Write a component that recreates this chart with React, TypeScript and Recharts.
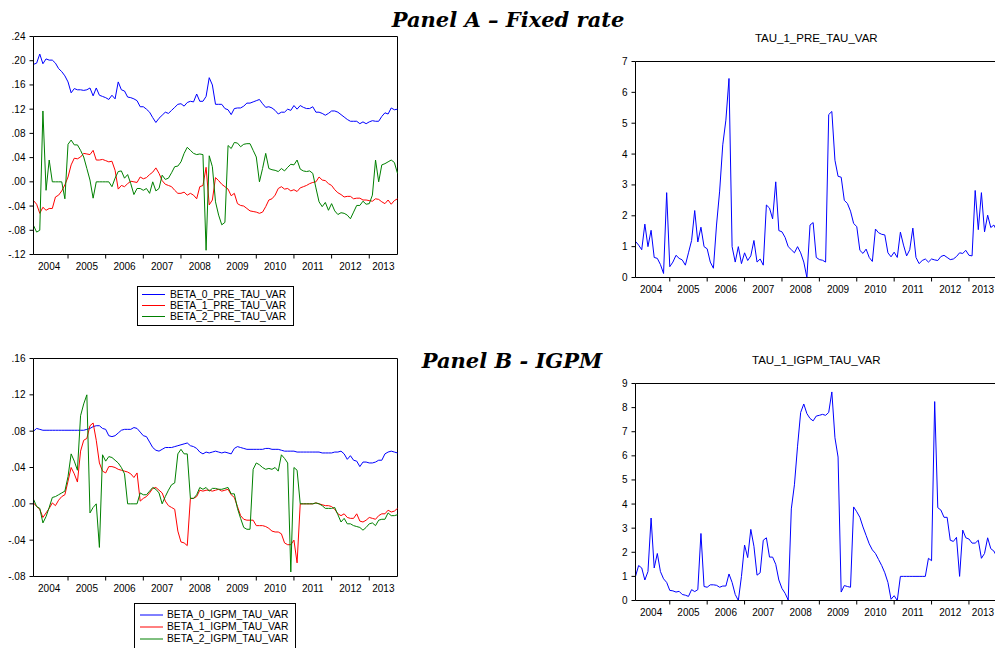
import React from "react";
import { LineChart, Line, XAxis, YAxis, Legend, ReferenceLine } from "recharts";

const FONT = '"Liberation Sans", Arial, sans-serif';

// monthly observations, index 0 = 2004M02 ... 116 = 2013M10
const YEARS = ["2004", "2005", "2006", "2007", "2008", "2009", "2010", "2011", "2012", "2013"];
const YEAR_BREAKS = [11, 23, 35, 47, 59, 71, 83, 95, 107];
const YEAR_MIDS = [5, 17, 29, 41, 53, 65, 77, 89, 101, 111.5];
const LAST = 116;

const BETA_TICKS_PRE = [-0.12, -0.08, -0.04, 0, 0.04, 0.08, 0.12, 0.16, 0.2, 0.24];
const BETA_TICKS_IGPM = [-0.08, -0.04, 0, 0.04, 0.08, 0.12, 0.16];
const TAU_TICKS_PRE = [0, 1, 2, 3, 4, 5, 6, 7];
const TAU_TICKS_IGPM = [0, 1, 2, 3, 4, 5, 6, 7, 8, 9];

const BETA0_PRE = [
  0.194, 0.196, 0.211, 0.195, 0.203, 0.201, 0.201, 0.196, 0.187, 0.182,
  0.175, 0.165, 0.147, 0.154, 0.152, 0.152, 0.151, 0.152, 0.155, 0.142,
  0.155, 0.143, 0.141, 0.139, 0.136, 0.143, 0.137, 0.165, 0.152, 0.15,
  0.14, 0.139, 0.137, 0.134, 0.124, 0.124, 0.12, 0.115, 0.106, 0.098,
  0.105, 0.11, 0.115, 0.113, 0.118, 0.123, 0.128, 0.129, 0.125, 0.131,
  0.133, 0.132, 0.145, 0.133, 0.133, 0.141, 0.172, 0.16, 0.128, 0.128,
  0.128, 0.121, 0.119, 0.111, 0.121, 0.122, 0.122, 0.125, 0.13, 0.13,
  0.132, 0.134, 0.136, 0.129, 0.123, 0.124, 0.122, 0.118, 0.112, 0.115,
  0.115, 0.12, 0.118, 0.126, 0.12, 0.126, 0.123, 0.121, 0.121, 0.124,
  0.115, 0.115, 0.113, 0.11, 0.113, 0.117, 0.117, 0.115, 0.111, 0.107,
  0.103, 0.1, 0.1, 0.1, 0.096, 0.099, 0.096, 0.099, 0.101, 0.1,
  0.1, 0.108, 0.114, 0.112, 0.122, 0.119, 0.12,
];

const BETA1_PRE = [
  -0.031, -0.037, -0.052, -0.042, -0.047, -0.044, -0.044, -0.025, -0.022, -0.015,
  -0.005, 0.008, 0.028, 0.039, 0.038, 0.041, 0.047, 0.046, 0.045, 0.052,
  0.036, 0.036, 0.037, 0.035, 0.033, 0.034, 0.019, -0.012, -0.006, -0.008,
  -0.003, 0.001, 0.0, -0.001, 0.008, 0.005, 0.007, 0.012, 0.016, 0.023,
  0.014, 0.002, -0.004, -0.006, -0.008, -0.014, -0.019, -0.019, -0.017, -0.022,
  -0.019, -0.022, -0.028, -0.008, -0.006, 0.024, -0.038, -0.03, 0.007, 0.002,
  -0.004, -0.008, -0.012, -0.023, -0.019, -0.036, -0.039, -0.04, -0.044, -0.048,
  -0.049, -0.05, -0.052, -0.05, -0.041, -0.03, -0.028, -0.022, -0.011, -0.008,
  -0.012, -0.011, -0.015, -0.013, -0.016, -0.01, -0.008, -0.006, -0.003, -0.001,
  0.0, 0.008, 0.003, 0.002, -0.003, -0.006, -0.013, -0.018, -0.021, -0.025,
  -0.024, -0.024, -0.028, -0.027, -0.027, -0.03, -0.03, -0.031, -0.032, -0.028,
  -0.029, -0.033, -0.036, -0.03, -0.037, -0.031, -0.028,
];

const BETA2_PRE = [
  -0.072, -0.083, -0.08, 0.117, -0.014, 0.036, 0.0, 0.0, 0.0, 0.0,
  -0.028, 0.062, 0.069, 0.061, 0.061, 0.052, 0.041, 0.022, 0.003, -0.027,
  0.0, 0.0, 0.0, 0.0, 0.0, -0.008, 0.006, 0.017, 0.018, 0.006,
  0.012, -0.003, -0.021, -0.011, -0.011, -0.014, -0.011, -0.019, 0.0, -0.015,
  -0.011, 0.011, 0.004, 0.006, 0.015, 0.025, 0.026, 0.033, 0.047, 0.057,
  0.052, 0.047, 0.045, 0.046, 0.045, -0.113, 0.043, 0.025, -0.033, -0.055,
  -0.071, -0.067, 0.06, 0.055, 0.065, 0.064, 0.058, 0.062, 0.063, 0.063,
  0.052, 0.041, 0.0, 0.022, 0.047, 0.022, 0.02, 0.019, 0.017, 0.022,
  0.018, 0.024, 0.029, 0.028, 0.036, 0.021, 0.018, 0.017, 0.018, 0.014,
  -0.01, -0.033, -0.041, -0.034, -0.047, -0.036, -0.048, -0.054, -0.051, -0.052,
  -0.055, -0.061, -0.05, -0.039, -0.039, -0.032, -0.037, -0.036, -0.022, 0.036,
  0.0, 0.028, 0.03, 0.033, 0.036, 0.032, 0.014,
];

const TAU_PRE = [
  1.17, 1.05, 0.9, 1.73, 1.0, 1.53, 0.65, 0.62, 0.42, 0.13,
  2.75, 0.35, 0.5, 0.72, 0.62, 0.57, 0.4, 0.8, 1.2, 2.17,
  1.15, 1.63, 1.0, 0.93, 0.5, 0.3, 1.7, 2.8, 4.3, 5.1,
  6.45, 1.0, 0.5, 1.0, 0.45, 0.8, 0.55, 0.7, 1.2, 0.5,
  0.6, 0.4, 2.35, 2.25, 1.9, 3.1, 1.52, 1.48, 1.3, 1.0,
  0.9, 0.8, 1.0, 0.8, 0.5, 0.0, 1.7, 1.78, 0.65, 0.58,
  0.56, 0.5, 5.28, 5.38, 3.8, 3.28, 3.25, 2.5, 2.4, 2.15,
  1.75, 1.65, 0.88, 0.78, 0.92, 0.65, 0.52, 1.57, 1.45, 1.4,
  1.38, 0.8, 0.67, 0.82, 0.65, 1.47, 1.05, 0.7, 0.9, 1.6,
  0.65, 0.45, 0.55, 0.6, 0.5, 0.6, 0.57, 0.55, 0.68, 0.72,
  0.65, 0.58, 0.6, 0.68, 0.8, 0.78, 0.88, 0.72, 0.7, 2.82,
  1.55, 2.75, 1.48, 2.02, 1.62, 1.7, 1.5,
];

const BETA0_IGPM = [
  0.08, 0.083, 0.082, 0.081, 0.081, 0.081, 0.081, 0.081, 0.081, 0.081,
  0.081, 0.081, 0.081, 0.081, 0.081, 0.081, 0.081, 0.082, 0.083, 0.085,
  0.086, 0.086, 0.083, 0.082, 0.075, 0.074, 0.075, 0.078, 0.081, 0.082,
  0.082, 0.082, 0.084, 0.083, 0.079, 0.075, 0.074, 0.068, 0.062, 0.059,
  0.058, 0.06, 0.062, 0.062, 0.062, 0.063, 0.064, 0.065, 0.066, 0.067,
  0.064, 0.063, 0.061, 0.057, 0.055, 0.057, 0.056, 0.057, 0.058, 0.057,
  0.056, 0.057, 0.056, 0.055, 0.061, 0.063, 0.062, 0.061, 0.06, 0.06,
  0.06, 0.06, 0.06, 0.06, 0.061, 0.061, 0.06, 0.06, 0.06, 0.059,
  0.058, 0.058, 0.058, 0.058, 0.057, 0.057, 0.057, 0.057, 0.057, 0.057,
  0.057, 0.057, 0.056, 0.056, 0.056, 0.056, 0.057, 0.057, 0.058, 0.055,
  0.049, 0.053, 0.048, 0.047, 0.041, 0.046, 0.046, 0.045, 0.045, 0.046,
  0.048, 0.048, 0.055, 0.057, 0.058, 0.057, 0.056,
];

const BETA1_IGPM = [
  0.001, -0.003, -0.006, -0.015, -0.01, -0.005, 0.001, -0.002, 0.004, 0.008,
  0.01, 0.025, 0.04, 0.033, 0.024, 0.058, 0.07, 0.072, 0.086, 0.089,
  0.07, 0.045, 0.036, 0.034, 0.041, 0.041, 0.04, 0.038, 0.037, 0.036,
  0.035, 0.033, 0.029, 0.034, 0.003, 0.006, 0.008, 0.012, 0.017, 0.018,
  0.015, 0.012, 0.003, -0.002, -0.004, -0.006, -0.03, -0.042, -0.043, -0.046,
  0.006, 0.006, 0.008, 0.015, 0.014, 0.015, 0.015, 0.014, 0.015, 0.016,
  0.014, 0.015, 0.016, 0.01, 0.007, -0.003, -0.013, -0.017, -0.018, -0.018,
  -0.018, -0.024, -0.024, -0.024, -0.025, -0.027, -0.03, -0.031, -0.031, -0.033,
  -0.043, -0.045, -0.045, -0.04, -0.065, 0.0, 0.0, 0.0, 0.0, 0.0,
  0.001, 0.0, -0.001, -0.002, -0.002, -0.003, -0.006, -0.011, -0.013, -0.011,
  -0.015, -0.016, -0.016, -0.011, -0.019, -0.02, -0.018, -0.015, -0.016, -0.017,
  -0.013, -0.011, -0.011, -0.007, -0.009, -0.008, -0.005,
];

const BETA2_IGPM = [
  0.005, -0.003, -0.005, -0.021, -0.014, -0.004, 0.007, 0.008, 0.01, 0.012,
  0.014, 0.03, 0.055, 0.047, 0.037, 0.097, 0.11, 0.12, -0.01, -0.004,
  0.0, -0.048, 0.054, 0.047, 0.052, 0.051, 0.048, 0.045, 0.04, 0.033,
  0.0, 0.0, 0.0, 0.0, 0.012, 0.01, 0.01, 0.014, 0.018, 0.016,
  0.012, 0.0, 0.008, 0.015, 0.021, 0.023, 0.055, 0.06, 0.055, 0.055,
  0.006, 0.006, 0.01, 0.018, 0.016, 0.018, 0.014, 0.017, 0.017, 0.016,
  0.016, 0.017, 0.018, 0.011, 0.011, -0.005, -0.016, -0.026, -0.028, -0.028,
  0.038, 0.045, 0.043, 0.04, 0.038, 0.039, 0.038, 0.04, 0.036, 0.054,
  0.05, 0.045, -0.075, 0.04, 0.037, 0.0, 0.0, 0.0, 0.0, 0.0,
  0.001, 0.0, -0.002, -0.005, -0.005, -0.005, -0.004, -0.012, -0.02, -0.016,
  -0.022, -0.022, -0.024, -0.025, -0.026, -0.029, -0.026, -0.022, -0.021, -0.024,
  -0.018, -0.017, -0.017, -0.01, -0.013, -0.013, -0.012,
];

const TAU_IGPM = [
  1.0, 1.45, 1.35, 0.85, 1.2, 3.42, 1.35, 1.95, 1.2, 0.9,
  0.75, 0.42, 0.4, 0.35, 0.38, 0.25, 0.22, 0.17, 0.45, 0.37,
  0.45, 2.78, 0.58, 0.55, 0.65, 0.65, 0.63, 0.55, 0.6, 0.6,
  1.1, 0.75, 0.25, 0.0, 1.0, 2.3, 1.78, 2.95, 2.25, 1.05,
  1.15, 2.5, 2.6, 1.8, 1.8, 1.5, 0.85, 0.5, 0.3, 0.02,
  3.8, 4.8, 6.4, 7.8, 8.15, 7.75, 7.55, 7.45, 7.65, 7.68,
  7.72, 7.68, 7.8, 8.65, 6.75, 5.95, 0.35, 0.62, 0.58, 0.55,
  3.88, 3.68, 3.45, 3.05, 2.7, 2.35, 2.1, 1.95, 1.7, 1.45,
  1.15, 0.75, 0.05, 0.2, 0.0, 1.0, 1.0, 1.0, 1.0, 1.0,
  1.0, 1.0, 1.0, 1.0, 1.75, 1.65, 8.25, 3.85, 3.75, 3.45,
  3.45, 2.5, 2.45, 2.62, 1.0, 2.92, 2.6, 2.55, 2.38, 2.38,
  2.5, 1.75, 1.95, 2.6, 2.15, 2.05, 1.8,
];

type Series = { key: string; name: string; color: string; values: number[] };

const betaFmt = (v: number) => v.toFixed(2).replace(/^(-?)0\./, "$1.");

function YearTick(props: any) {
  const { x, y, payload } = props;
  const k = YEAR_MIDS.indexOf(payload.value);
  if (k >= 0) {
    return (
      <text x={x} y={y} dy="0.71em" textAnchor="middle" fontSize={10} fill="#000" fontFamily={FONT}>
        {YEARS[k]}
      </text>
    );
  }
  return <line x1={x} x2={x} y1={y - 8} y2={y - 4} stroke="#000" />;
}

function LegendBox(props: any) {
  const { payload, width, rowH, padTop, swatchLeft, textLeft } = props;
  return (
    <div
      style={{
        width,
        height: 3 * rowH + padTop + 5,
        border: "1px solid #000",
        boxSizing: "border-box",
        background: "#fff",
        paddingTop: padTop,
        fontFamily: FONT,
        fontSize: 10.3,
        color: "#000",
      }}
    >
      {(payload || []).map((p: any) => (
        <div key={p.value} style={{ position: "relative", height: rowH }}>
          <svg width={23} height={rowH} style={{ position: "absolute", left: swatchLeft, top: 0 }}>
            <line x1={0} x2={23} y1={rowH / 2} y2={rowH / 2} stroke={p.color} />
          </svg>
          <span style={{ position: "absolute", left: textLeft, top: 0, lineHeight: rowH + "px", whiteSpace: "nowrap" }}>
            {p.value}
          </span>
        </div>
      ))}
    </div>
  );
}

function Panel(props: any) {
  const { left, top, width, height, margin, yWidth, yDomain, yTicks, yFormat, series, title, legend } = props;
  const rows = series[0].values.map((_: number, i: number) => {
    const r: any = { i };
    series.forEach((s: Series) => (r[s.key] = s.values[i]));
    return r;
  });
  const xTicks = [...YEAR_BREAKS, ...YEAR_MIDS].sort((a, b) => a - b);
  return (
    <div style={{ position: "absolute", left, top }}>
      <LineChart width={width} height={height} data={rows} margin={margin}>
        <XAxis
          dataKey="i"
          type="number"
          domain={[0, LAST]}
          ticks={xTicks}
          interval={0}
          tick={<YearTick />}
          tickLine={false}
          tickSize={4}
          tickMargin={4}
          height={20}
          stroke="#000"
        />
        <YAxis
          type="number"
          domain={yDomain}
          ticks={yTicks}
          interval={0}
          width={yWidth}
          tickSize={4}
          tickMargin={4}
          tickFormatter={yFormat}
          tick={{ fontSize: 10, fill: "#000", fontFamily: FONT }}
          stroke="#000"
        />
        {/* box frame: top and right edges */}
        <ReferenceLine
          y={yDomain[1]}
          stroke="#000"
          strokeWidth={1}
          label={
            title
              ? { value: title, position: "top", offset: 19.5, fontSize: 11.5, fill: "#000", fontFamily: FONT }
              : undefined
          }
        />
        <ReferenceLine x={LAST} stroke="#000" strokeWidth={1} />
        {series.map((s: Series) => (
          <Line
            key={s.key}
            dataKey={s.key}
            name={s.name}
            stroke={s.color}
            strokeWidth={1}
            dot={false}
            activeDot={false}
            type="linear"
            isAnimationActive={false}
          />
        ))}
        {legend ? (
          <Legend
            layout="vertical"
            align="center"
            verticalAlign="middle"
            wrapperStyle={{ left: legend.left, top: legend.top, width: legend.width }}
            content={(p: any) => <LegendBox payload={p.payload} {...legend} />}
          />
        ) : null}
      </LineChart>
    </div>
  );
}

const PRE_BETAS: Series[] = [
  { key: "b0", name: "BETA_0_PRE_TAU_VAR", color: "#0000ff", values: BETA0_PRE },
  { key: "b1", name: "BETA_1_PRE_TAU_VAR", color: "#ff0000", values: BETA1_PRE },
  { key: "b2", name: "BETA_2_PRE_TAU_VAR", color: "#008000", values: BETA2_PRE },
];
const IGPM_BETAS: Series[] = [
  { key: "b0", name: "BETA_0_IGPM_TAU_VAR", color: "#0000ff", values: BETA0_IGPM },
  { key: "b1", name: "BETA_1_IGPM_TAU_VAR", color: "#ff0000", values: BETA1_IGPM },
  { key: "b2", name: "BETA_2_IGPM_TAU_VAR", color: "#008000", values: BETA2_IGPM },
];

const titleStyle: React.CSSProperties = {
  position: "absolute",
  transform: "translateX(-50%)",
  whiteSpace: "nowrap",
  fontFamily: '"DejaVu Serif", serif',
  fontWeight: "bold",
  fontStyle: "italic",
  fontSize: 21,
  lineHeight: "21px",
  color: "#000",
};

export default function App() {
  return (
    <div
      style={{
        position: "absolute",
        left: 0,
        top: 0,
        width: 995,
        height: 648,
        overflow: "hidden",
        background: "#fff",
        fontFamily: FONT,
      }}
    >
      <div style={{ ...titleStyle, left: 508, top: 9 }}>Panel A – Fixed rate</div>
      <div style={{ ...titleStyle, left: 512, top: 350 }}>Panel B - IGPM</div>

      <Panel
        left={0}
        top={0}
        width={400}
        height={330}
        margin={{ top: 36.5, right: 2.5, bottom: 55.5, left: 0.5 }}
        yWidth={33}
        yDomain={[-0.12, 0.24]}
        yTicks={BETA_TICKS_PRE}
        yFormat={betaFmt}
        series={PRE_BETAS}
        legend={{ left: 137, top: 286, width: 157, rowH: 11, padTop: 1.5, swatchLeft: 4, textLeft: 32 }}
      />
      <Panel
        left={600}
        top={0}
        width={400}
        height={300}
        margin={{ top: 61.5, right: 3, bottom: 2.5, left: 0.5 }}
        yWidth={35}
        yDomain={[0, 7]}
        yTicks={TAU_TICKS_PRE}
        yFormat={(v: number) => String(v)}
        series={[{ key: "t", name: "TAU_1_PRE_TAU_VAR", color: "#0000ff", values: TAU_PRE }]}
        title="TAU_1_PRE_TAU_VAR"
      />
      <Panel
        left={0}
        top={320}
        width={400}
        height={330}
        margin={{ top: 38.5, right: 2.5, bottom: 53.5, left: 0.5 }}
        yWidth={33}
        yDomain={[-0.08, 0.16]}
        yTicks={BETA_TICKS_IGPM}
        yFormat={betaFmt}
        series={IGPM_BETAS}
        legend={{ left: 134, top: 283, width: 162, rowH: 12, padTop: 5, swatchLeft: 5, textLeft: 32 }}
      />
      <Panel
        left={600}
        top={320}
        width={400}
        height={300}
        margin={{ top: 63.5, right: 3, bottom: -0.5, left: 0.5 }}
        yWidth={35}
        yDomain={[0, 9]}
        yTicks={TAU_TICKS_IGPM}
        yFormat={(v: number) => String(v)}
        series={[{ key: "t", name: "TAU_1_IGPM_TAU_VAR", color: "#0000ff", values: TAU_IGPM }]}
        title="TAU_1_IGPM_TAU_VAR"
      />
    </div>
  );
}
